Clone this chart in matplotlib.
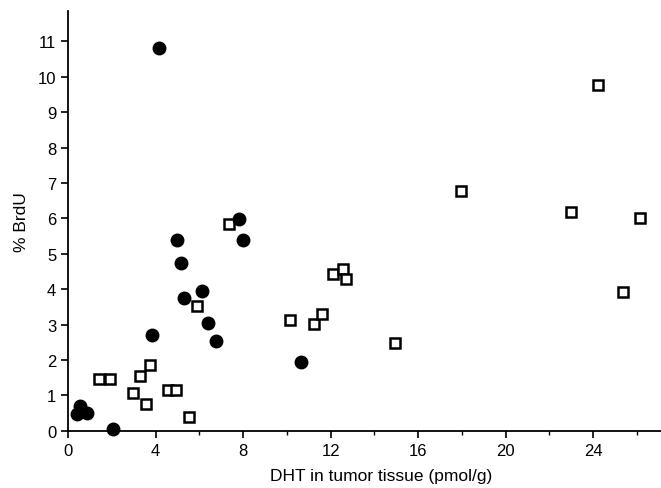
import numpy as np
import matplotlib
matplotlib.use('Agg')
import matplotlib.pyplot as plt
from matplotlib.ticker import MultipleLocator

# filled circles
circ_x = [4.15, 0.55, 0.40, 0.88, 2.07, 3.85, 5.00, 5.16, 5.28, 6.13,
          6.41, 6.76, 7.98, 7.79, 10.64]
circ_y = [10.80, 0.71, 0.48, 0.51, 0.04, 2.71, 5.38, 4.74, 3.75, 3.94,
          3.04, 2.55, 5.40, 5.97, 1.94]

# open squares
sq_x = [1.40, 1.92, 2.98, 3.30, 3.73, 3.55, 4.55, 4.93, 5.52, 5.90,
        7.34, 10.14, 11.22, 11.60, 12.11, 12.57, 12.72, 14.95, 17.98,
        22.97, 24.23, 25.36, 26.12]
sq_y = [1.45, 1.45, 1.07, 1.54, 1.86, 0.75, 1.15, 1.14, 0.38, 3.53,
        5.83, 3.14, 3.02, 3.30, 4.43, 4.56, 4.29, 2.49, 6.78,
        6.19, 9.77, 3.92, 6.02]

plt.rcParams['font.family'] = ['Liberation Sans', 'DejaVu Sans']

fig = plt.figure(figsize=(6.61, 4.89), dpi=100)
ax = fig.add_axes([0.103, 0.117, 0.897, 0.858])

ax.plot(sq_x, sq_y, 's', ms=6.8, mfc='white', mec='black', mew=1.8,
        clip_on=False)
ax.plot(circ_x, circ_y, 'o', ms=9, color='black', clip_on=False)

ax.set_xlim(0, 27.1)
ax.set_ylim(0, 11.85)
ax.xaxis.set_major_locator(MultipleLocator(4))
ax.xaxis.set_minor_locator(MultipleLocator(2))
ax.yaxis.set_major_locator(MultipleLocator(1))

for s in ['top', 'right']:
    ax.spines[s].set_visible(False)
for s in ['left', 'bottom']:
    ax.spines[s].set_linewidth(1.3)

ax.tick_params(which='major', direction='out', length=5, width=1.2,
               labelsize=12)
ax.tick_params(which='minor', direction='out', length=3, width=1)

ax.set_xlabel('DHT in tumor tissue (pmol/g)', fontsize=12.5)
ax.xaxis.set_label_coords(0.528, -0.088)
ax.set_ylabel('% BrdU', fontsize=12.5, labelpad=6)

fig.savefig('out.png', dpi=100)
